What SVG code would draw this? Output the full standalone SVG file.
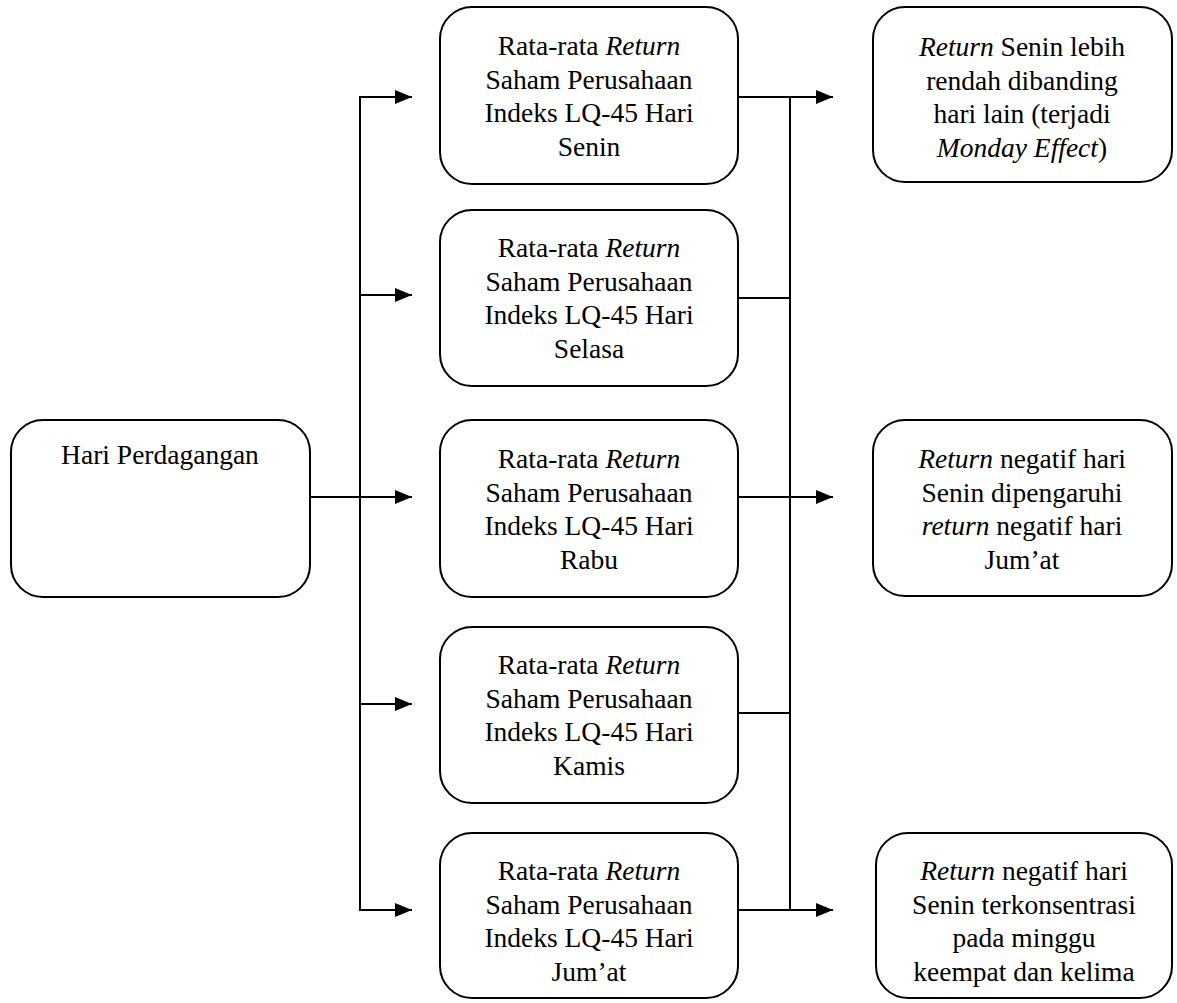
<svg xmlns="http://www.w3.org/2000/svg" width="1177" height="1003" viewBox="0 0 1177 1003">
<style>
.box{fill:#fff;stroke:#000;stroke-width:2}
.t{font-size:27.5px;fill:#000;text-anchor:middle}
.i{font-style:italic}
.c{stroke:#000;stroke-width:2;fill:none}
</style>
<defs>
<marker id="arr" markerUnits="userSpaceOnUse" markerWidth="18" markerHeight="16" refX="17" refY="8" orient="auto">
<path d="M0,1 L17,8 L0,15 z" fill="#000"/>
</marker>
</defs>
<rect width="1177" height="1003" fill="#fff"/>
<g id="connectors">
<line class="c" x1="360" y1="97" x2="360" y2="910"/>
<line class="c" x1="310" y1="497" x2="412" y2="497" marker-end="url(#arr)"/>
<line class="c" x1="359" y1="97" x2="412" y2="97" marker-end="url(#arr)"/>
<line class="c" x1="359" y1="295" x2="412" y2="295" marker-end="url(#arr)"/>
<line class="c" x1="359" y1="704" x2="412" y2="704" marker-end="url(#arr)"/>
<line class="c" x1="359" y1="910" x2="412" y2="910" marker-end="url(#arr)"/>
<line class="c" x1="790" y1="97" x2="790" y2="910"/>
<line class="c" x1="738" y1="97" x2="833" y2="97" marker-end="url(#arr)"/>
<line class="c" x1="738" y1="298" x2="791" y2="298"/>
<line class="c" x1="738" y1="497" x2="833" y2="497" marker-end="url(#arr)"/>
<line class="c" x1="738" y1="713" x2="791" y2="713"/>
<line class="c" x1="738" y1="910" x2="833" y2="910" marker-end="url(#arr)"/>
</g>
<g font-family="Liberation Serif, Tinos, Times New Roman, DejaVu Serif, serif">
<g id="hari">
<rect class="box" x="11" y="420" width="299" height="177" rx="32"/>
<text class="t" x="160" y="464">Hari Perdagangan</text>
</g>
<g id="senin">
<rect class="box" x="440" y="7" width="298" height="177" rx="32"/>
<text class="t" x="589" y="55">Rata-rata <tspan class="i">Return</tspan></text>
<text class="t" x="589" y="88.5">Saham Perusahaan</text>
<text class="t" x="589" y="122">Indeks LQ-45 Hari</text>
<text class="t" x="589" y="155.5">Senin</text>
</g>
<g id="selasa">
<rect class="box" x="440" y="210" width="298" height="176" rx="32"/>
<text class="t" x="589" y="257">Rata-rata <tspan class="i">Return</tspan></text>
<text class="t" x="589" y="290.5">Saham Perusahaan</text>
<text class="t" x="589" y="324">Indeks LQ-45 Hari</text>
<text class="t" x="589" y="357.5">Selasa</text>
</g>
<g id="rabu">
<rect class="box" x="440" y="420" width="298" height="177" rx="32"/>
<text class="t" x="589" y="468">Rata-rata <tspan class="i">Return</tspan></text>
<text class="t" x="589" y="501.5">Saham Perusahaan</text>
<text class="t" x="589" y="535">Indeks LQ-45 Hari</text>
<text class="t" x="589" y="568.5">Rabu</text>
</g>
<g id="kamis">
<rect class="box" x="440" y="627" width="298" height="176" rx="32"/>
<text class="t" x="589" y="674">Rata-rata <tspan class="i">Return</tspan></text>
<text class="t" x="589" y="707.5">Saham Perusahaan</text>
<text class="t" x="589" y="741">Indeks LQ-45 Hari</text>
<text class="t" x="589" y="774.5">Kamis</text>
</g>
<g id="jumat">
<rect class="box" x="440" y="833" width="298" height="165" rx="32"/>
<text class="t" x="589" y="880">Rata-rata <tspan class="i">Return</tspan></text>
<text class="t" x="589" y="913.5">Saham Perusahaan</text>
<text class="t" x="589" y="947">Indeks LQ-45 Hari</text>
<text class="t" x="589" y="980.5">Jum’at</text>
</g>
<g id="monday-effect">
<rect class="box" x="873" y="7" width="299" height="175" rx="32"/>
<text class="t" x="1022" y="56"><tspan class="i">Return</tspan> Senin lebih</text>
<text class="t" x="1022" y="89.5">rendah dibanding</text>
<text class="t" x="1022" y="123">hari lain (terjadi</text>
<text class="t" x="1022" y="156.5"><tspan class="i">Monday Effect</tspan>)</text>
</g>
<g id="dipengaruhi">
<rect class="box" x="873" y="420" width="299" height="176" rx="32"/>
<text class="t" x="1022" y="468"><tspan class="i">Return</tspan> negatif hari</text>
<text class="t" x="1022" y="501.5">Senin dipengaruhi</text>
<text class="t" x="1022" y="535"><tspan class="i">return</tspan> negatif hari</text>
<text class="t" x="1022" y="568.5">Jum’at</text>
</g>
<g id="terkonsentrasi">
<rect class="box" x="876" y="833" width="296" height="165" rx="32"/>
<text class="t" x="1024" y="880"><tspan class="i">Return</tspan> negatif hari</text>
<text class="t" x="1024" y="913.5">Senin terkonsentrasi</text>
<text class="t" x="1024" y="947">pada minggu</text>
<text class="t" x="1024" y="980.5">keempat dan kelima</text>
</g>
</g>
</svg>
